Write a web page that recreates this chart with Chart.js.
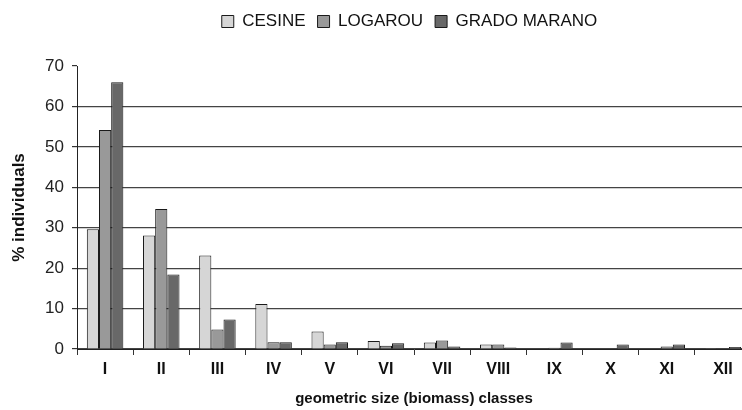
<!DOCTYPE html>
<html>
<head>
<meta charset="utf-8">
<script src="https://cdn.jsdelivr.net/npm/chart.js@4/dist/chart.umd.min.js"></script>
<style>
  html, body { margin: 0; padding: 0; background: #fff; overflow: hidden; }
  #wrap { width: 742px; height: 410px; overflow: hidden; }
  #box { width: 760px; height: 410px; }
</style>
</head>
<body>
<div id="wrap"><div id="box"><canvas id="myChart"></canvas></div></div>
<script>
// categorie (classi di taglia)
const classes = ['I', 'II', 'III', 'IV', 'V', 'VI', 'VII', 'VIII', 'IX', 'X', 'XI', 'XII'];

// % individui per sito
const cesine = [29.6, 28.1, 23.1, 11.1, 4.3, 2.0, 1.6, 1.1, 0.1, 0.1, 0, 0.2];
const logarou = [54.2, 34.6, 4.8, 1.7, 1.1, 0.8, 2.1, 1.1, 0.3, 0.1, 0.6, 0];
const gradoMarano = [66.0, 18.4, 7.3, 1.7, 1.7, 1.4, 0.6, 0.4, 1.6, 1.1, 1.1, 0.5];

const yTicks = [0, 10, 20, 30, 40, 50, 60, 70];

// legenda: spazio sotto e spostamento orizzontale
const legendTweak = {
    id: 'legendTweak',
    beforeLayout(chart) {
        const lg = chart.legend;
        if (lg && !lg._patched) {
            const fit = lg.fit;
            lg.fit = function () { fit.call(this); this.height += 26; };
            lg._patched = true;
        }
    },
    afterLayout(chart) {
        const lg = chart.legend;
        if (lg) { lg.left += 34; lg.right += 34; }
    }
};

const ctx = document.getElementById('myChart').getContext('2d');
new Chart(ctx, {
    type: 'bar',
    data: {
        labels: classes,
        datasets: [
            { label: 'CESINE', data: cesine, backgroundColor: '#d6d6d6' },
            { label: 'LOGAROU', data: logarou, backgroundColor: '#999999' },
            { label: 'GRADO MARANO', data: gradoMarano, backgroundColor: '#686868' }
        ]
    },
    options: {
        responsive: true,
        maintainAspectRatio: false,
        animation: false,
        layout: { padding: { left: 0, right: 9, top: 1, bottom: 0 } },
        datasets: {
            bar: {
                borderColor: '#1a1a1a',
                borderWidth: 1,
                borderSkipped: 'bottom',
                categoryPercentage: 0.65,
                barPercentage: 1
            }
        },
        plugins: {
            legend: {
                display: true,
                position: 'top',
                labels: {
                    boxWidth: 12,
                    boxHeight: 12,
                    padding: 12,
                    color: '#111',
                    font: { family: 'Liberation Sans', size: 17 }
                }
            },
            tooltip: { enabled: false }
        },
        scales: {
            x: {
                offset: true,
                border: { display: true, color: '#222', width: 1 },
                grid: {
                    offset: true,
                    drawOnChartArea: false,
                    drawTicks: true,
                    tickLength: 6,
                    tickColor: '#333'
                },
                ticks: {
                    padding: 5,
                    color: '#111',
                    font: { family: 'Liberation Sans', size: 16, weight: 'bold' }
                },
                title: {
                    display: true,
                    text: 'geometric size (biomass) classes',
                    color: '#111',
                    padding: { top: 0, bottom: 2 },
                    font: { family: 'Liberation Sans', size: 15, weight: 'bold' }
                },
                afterFit(scale) { scale.height = 61; }
            },
            y: {
                min: 0,
                max: 70,
                afterBuildTicks(scale) { scale.ticks = yTicks.map(v => ({ value: v })); },
                border: { display: true, color: '#222', width: 1 },
                grid: {
                    color: (c) => (c.tick && c.tick.value === 70) ? 'rgba(0,0,0,0)' : '#444',
                    tickColor: '#333',
                    tickLength: 5,
                    lineWidth: 1.2
                },
                ticks: {
                    padding: 8,
                    color: '#222',
                    font: { family: 'Liberation Sans', size: 17 }
                },
                title: {
                    display: true,
                    text: '% individuals',
                    color: '#111',
                    padding: { top: 9, bottom: 0 },
                    font: { family: 'Liberation Sans', size: 17, weight: 'bold' }
                },
                afterFit(scale) { scale.width = 77; }
            }
        }
    },
    plugins: [legendTweak]
});
</script>
</body>
</html>
